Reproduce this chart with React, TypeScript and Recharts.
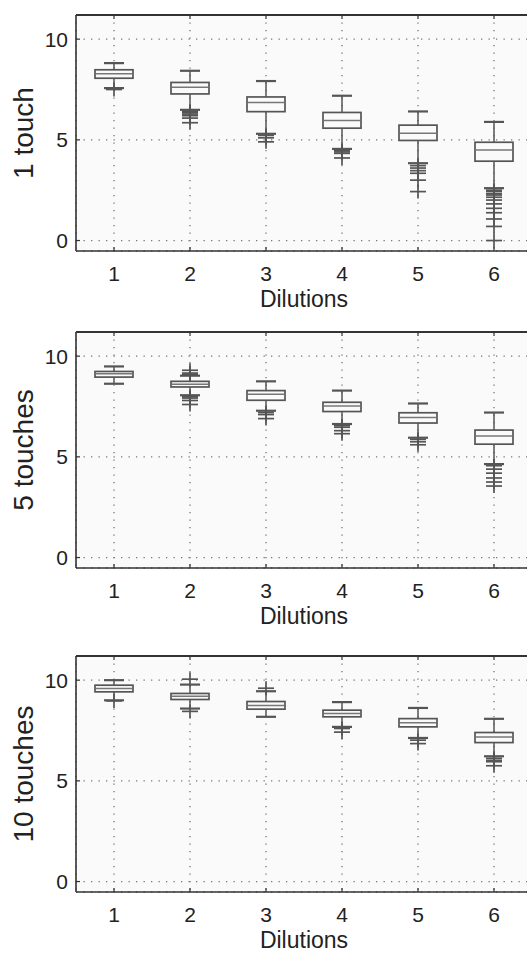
import React from "react";
import {
  ComposedChart,
  Bar,
  Scatter,
  XAxis,
  YAxis,
  CartesianGrid,
  ReferenceLine,
  Label,
} from "recharts";

const dilutions = [1, 2, 3, 4, 5, 6];
const yTicks = [0, 5, 10];

// 1 touch
const t1Hi = [8.81, 8.43, 7.92, 7.19, 6.41, 5.89];
const t1Q3 = [8.48, 7.85, 7.13, 6.36, 5.73, 4.88];
const t1Med = [8.28, 7.61, 6.86, 5.96, 5.33, 4.5];
const t1Q1 = [8.06, 7.28, 6.4, 5.58, 4.97, 3.94];
const t1Lo = [7.57, 6.49, 5.3, 4.55, 3.84, 2.6];
const t1Out = [
  [7.5],
  [6.42, 6.35, 6.28, 6.2, 6.08, 5.85],
  [5.22, 5.1, 4.9],
  [4.47, 4.4, 4.33, 4.1],
  [3.72, 3.6, 3.47, 3.34, 3.0, 2.43],
  [2.5, 2.43, 2.32, 2.26, 2.15, 2.01, 1.82, 1.6, 1.38, 1.07, 0.7, 0],
];

// 5 touches
const t5Hi = [9.49, 9.03, 8.75, 8.29, 7.65, 7.2];
const t5Q3 = [9.24, 8.75, 8.29, 7.71, 7.19, 6.33];
const t5Med = [9.13, 8.6, 8.11, 7.52, 6.96, 6.04];
const t5Q1 = [8.96, 8.47, 7.81, 7.25, 6.68, 5.63];
const t5Lo = [8.63, 8.06, 7.29, 6.63, 5.95, 4.64];
const t5Out = [
  [],
  [9.1, 9.16, 9.3, 7.98, 7.92, 7.8, 7.6],
  [7.2, 7.1, 6.9],
  [6.55, 6.47, 6.3, 6.15],
  [5.87, 5.75, 5.6],
  [4.56, 4.39, 4.19, 3.95, 3.75, 3.55],
];

// 10 touches
const t10Hi = [10.0, 9.78, 9.45, 8.91, 8.62, 8.08];
const t10Q3 = [9.75, 9.34, 8.94, 8.51, 8.09, 7.4];
const t10Med = [9.58, 9.2, 8.74, 8.34, 7.88, 7.18];
const t10Q1 = [9.42, 9.04, 8.56, 8.18, 7.68, 6.9];
const t10Lo = [9.0, 8.59, 8.18, 7.68, 7.13, 6.22];
const t10Out = [
  [8.97],
  [10.05, 8.45],
  [9.6],
  [7.6, 7.42],
  [7.02, 6.85],
  [6.12, 6.02, 5.95, 5.75],
];

const FONT = "'Liberation Sans', Arial, Helvetica, sans-serif";
const INK = "#555";
const PLOT_H = 236;
const Y_MIN = -0.52;
const Y_MAX = 11.2;

function makeRows(hi: number[], q3: number[], med: number[], q1: number[], lo: number[]) {
  return dilutions.map((d, i) => ({ x: d, hi: hi[i], q3: q3[i], med: med[i], q1: q1[i], lo: lo[i] }));
}

function makeOutliers(out: number[][]) {
  return out.flatMap((arr, i) => arr.map((v) => ({ x: dilutions[i], y: v })));
}

// box + whiskers, positioned inside the lo..hi range bar
function BoxShape(props: any) {
  const { x, y, width, height, payload } = props;
  const { hi, lo, q1, q3, med } = payload;
  const py = (v: number) => y + ((hi - v) / (hi - lo)) * height;
  const cx = x + width / 2;
  const cap = 10;
  return (
    <g stroke={INK} strokeWidth={1.5} fill="none">
      <line x1={cx} x2={cx} y1={py(hi)} y2={py(q3)} />
      <line x1={cx} x2={cx} y1={py(q1)} y2={py(lo)} />
      <line x1={cx - cap} x2={cx + cap} y1={py(hi)} y2={py(hi)} strokeWidth={2.2} />
      <line x1={cx - cap} x2={cx + cap} y1={py(lo)} y2={py(lo)} strokeWidth={2.2} />
      <rect x={x} y={py(q3)} width={width} height={py(q1) - py(q3)} fill="#fafafa" strokeWidth={1.7} />
      <line x1={x + 1} x2={x + width - 1} y1={py(med)} y2={py(med)} stroke="#777" />
    </g>
  );
}

function PlusShape(props: any) {
  const { cx, cy } = props;
  return (
    <g stroke={INK} strokeWidth={1.7}>
      <line x1={cx - 8} x2={cx + 8} y1={cy} y2={cy} />
      <line x1={cx} x2={cx} y1={cy - 7} y2={cy + 7} />
    </g>
  );
}

function XTick(props: any) {
  const { x, y, payload } = props;
  return (
    <g>
      <line x1={x} x2={x} y1={y} y2={y - 4} stroke="#333" strokeWidth={1.2} />
      <line x1={x} x2={x} y1={y - PLOT_H} y2={y - PLOT_H + 4} stroke="#333" strokeWidth={1.2} />
      <text x={x} y={y + 29.5} textAnchor="middle" fontSize={21} fill="#222" fontFamily={FONT}>
        {payload.value}
      </text>
    </g>
  );
}

function YTick(props: any) {
  const { x, y, payload } = props;
  return (
    <g>
      <line x1={x} x2={x + 4} y1={y} y2={y} stroke="#333" strokeWidth={1.2} />
      <text x={x - 8} y={y} dy="0.36em" textAnchor="end" fontSize={21} fill="#222" fontFamily={FONT}>
        {payload.value}
      </text>
    </g>
  );
}

function Panel({ top, title, rows, outliers }: { top: number; title: string; rows: any[]; outliers: any[] }) {
  return (
    <div style={{ position: "absolute", left: 0, top }}>
      <ComposedChart
        width={532}
        height={313}
        data={rows}
        margin={{ top: 15, right: 0, bottom: 0, left: 0 }}
      >
        <CartesianGrid
          fill="#fafafa"
          stroke="#777"
          strokeWidth={1.3}
          strokeDasharray="1.3 6.2"
        />
        <XAxis
          dataKey="x"
          type="number"
          domain={[0.5, 6.5]}
          ticks={dilutions}
          allowDataOverflow
          height={62}
          tickSize={0}
          tickMargin={0}
          tickLine={false}
          axisLine={{ stroke: "#333", strokeWidth: 1.6 }}
          tick={<XTick />}
        >
          <Label
            content={(p: any) => {
              const vb = p.viewBox;
              return (
                <text
                  x={vb.x + vb.width / 2}
                  y={vb.y + 55.5}
                  textAnchor="middle"
                  fontSize={23}
                  fill="#222"
                  fontFamily={FONT}
                >
                  Dilutions
                </text>
              );
            }}
          />
        </XAxis>
        <YAxis
          type="number"
          domain={[Y_MIN, Y_MAX]}
          ticks={yTicks}
          allowDataOverflow
          width={76}
          tickSize={0}
          tickMargin={0}
          tickLine={false}
          axisLine={{ stroke: "#333", strokeWidth: 1.6 }}
          tick={<YTick />}
        >
          <Label
            content={(p: any) => {
              const vb = p.viewBox;
              const cy = vb.y + vb.height / 2;
              return (
                <text
                  x={33}
                  y={cy}
                  transform={`rotate(-90, 33, ${cy})`}
                  textAnchor="middle"
                  fontSize={28}
                  fill="#222"
                  fontFamily={FONT}
                >
                  {title}
                </text>
              );
            }}
          />
        </YAxis>
        <ReferenceLine y={Y_MAX} stroke="#333" strokeWidth={1.8} />
        <Bar
          dataKey={(d: any) => [d.lo, d.hi]}
          barSize={38}
          shape={<BoxShape />}
          isAnimationActive={false}
        />
        <Scatter
          data={outliers}
          dataKey="y"
          shape={<PlusShape />}
          isAnimationActive={false}
        />
      </ComposedChart>
    </div>
  );
}

export default function App() {
  return (
    <div
      style={{
        position: "absolute",
        left: 0,
        top: 0,
        width: 527,
        height: 954,
        overflow: "hidden",
        background: "#fff",
      }}
    >
      <Panel
        top={0}
        title="1 touch"
        rows={makeRows(t1Hi, t1Q3, t1Med, t1Q1, t1Lo)}
        outliers={makeOutliers(t1Out)}
      />
      <Panel
        top={317}
        title="5 touches"
        rows={makeRows(t5Hi, t5Q3, t5Med, t5Q1, t5Lo)}
        outliers={makeOutliers(t5Out)}
      />
      <Panel
        top={641}
        title="10 touches"
        rows={makeRows(t10Hi, t10Q3, t10Med, t10Q1, t10Lo)}
        outliers={makeOutliers(t10Out)}
      />
    </div>
  );
}
